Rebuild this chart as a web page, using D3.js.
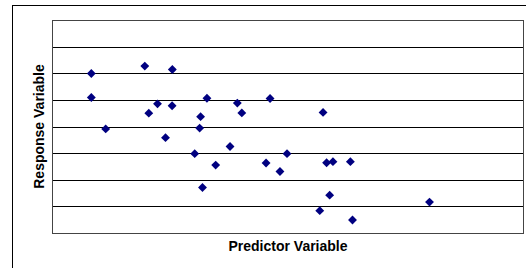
<!DOCTYPE html>
<html>
<head>
<meta charset="utf-8">
<script src="https://cdn.jsdelivr.net/npm/d3@7"></script>
<style>
  body { margin: 0; background: #fff; }
  svg { display: block; font-family: "Liberation Sans", Arial, sans-serif; }
</style>
</head>
<body>
<script>
// predictor / response pairs
var xValues = [1.67, 1.67, 2.28, 3.94, 4.11, 4.48, 5.11, 5.10, 4.82, 6.31,
               6.58, 6.27, 7.87, 8.06, 9.26, 11.51, 6.06, 7.56, 6.95, 6.39,
               9.09, 9.98, 9.68, 11.66, 11.93, 12.67, 11.79, 11.37, 12.76, 16.03];
var yValues = [5.99, 5.09, 3.91, 6.27, 4.50, 4.85, 6.14, 4.78, 3.58, 4.37,
               5.06, 3.94, 4.88, 4.51, 5.05, 4.53, 2.98, 3.25, 2.55, 1.71,
               2.63, 2.98, 2.31, 2.64, 2.68, 2.68, 1.42, 0.84, 0.49, 1.16];
var yTicks = [0, 1, 2, 3, 4, 5, 6, 7, 8];

var W = 526, H = 268;
var margin = {top: 20, right: 3, bottom: 35, left: 52};
var width = 471,
    height = 233 - margin.top;

var svg = d3.select('body').append('svg')
  .attr('width', W)
  .attr('height', H);

// outer chart area border (runs off the picture)
svg.append('rect')
  .attr('x', 12.5).attr('y', 5.5)
  .attr('width', 700).attr('height', 400)
  .attr('fill', '#fff')
  .attr('stroke', '#000');

var g = svg.append('g')
  .attr('transform', 'translate(' + margin.left + ',' + margin.top + ')');

var xScale = d3.scaleLinear().domain([0, 20]).range([0, width]);
var yScale = d3.scaleLinear().domain([0, 8]).range([height, 0]);

g.selectAll('.grid')
  .data(yTicks)
  .enter()
  .append('line')
  .attr('class', 'grid')
  .attr('x1', 0).attr('x2', width)
  .attr('y1', function(d) { return Math.round(yScale(d)) + 0.5; })
  .attr('y2', function(d) { return Math.round(yScale(d)) + 0.5; })
  .attr('stroke', '#000');

g.append('rect')
  .attr('x', 0.5).attr('y', 0.5)
  .attr('width', width).attr('height', Math.round(height))
  .attr('fill', 'none')
  .attr('stroke', '#444');

var diamond = d3.symbol().type(d3.symbolDiamond2).size(50);

g.selectAll('.dot')
  .data(xValues)
  .enter()
  .append('path')
  .attr('class', 'dot')
  .attr('d', diamond)
  .attr('fill', '#000080')
  .attr('transform', function(d, i) {
    return 'translate(' + xScale(d) + ',' + yScale(yValues[i]) + ')';
  });

svg.append('text')
  .attr('x', 288)
  .attr('y', 251)
  .attr('text-anchor', 'middle')
  .style('font-size', '14px')
  .style('font-weight', 'bold')
  .text('Predictor Variable');

svg.append('text')
  .attr('transform', 'translate(44,' + (margin.top + height / 2) + ') rotate(-90)')
  .attr('text-anchor', 'middle')
  .style('font-size', '14px')
  .style('font-weight', 'bold')
  .text('Response Variable');
</script>
</body>
</html>
